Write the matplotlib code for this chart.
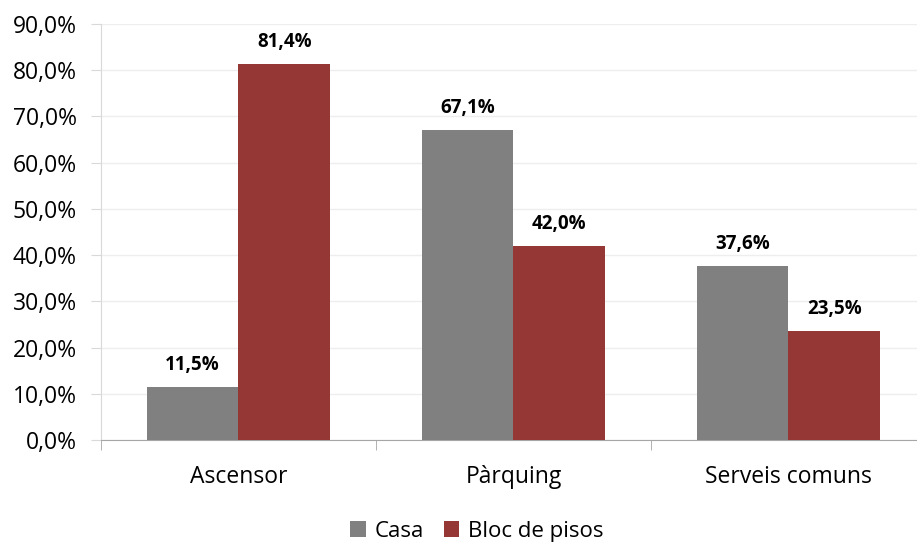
import numpy as np
import matplotlib.pyplot as plt
from matplotlib.ticker import FuncFormatter

plt.rcParams['font.family'] = ['Open Sans', 'DejaVu Sans']

categories = ['Ascensor', 'Pàrquing', 'Serveis comuns']
casa = [11.5, 67.1, 37.6]
bloc = [81.4, 42.0, 23.5]
series_names = ['Casa', 'Bloc de pisos']

fig = plt.figure(figsize=(9.17, 5.43), dpi=100)
ax = fig.add_axes([101/917, (543-440)/543, 825/917, 416/543])

x = np.arange(len(categories))
w = 0.333
b1 = ax.bar(x - w/2, casa, w, color='#808080', label=series_names[0], zorder=3)
b2 = ax.bar(x + w/2, bloc, w, color='#953735', label=series_names[1], zorder=3)

for bars, vals in ((b1, casa), (b2, bloc)):
    for r, v in zip(bars, vals):
        ax.text(r.get_x() + r.get_width()/2, v + 2.6, ('%.1f%%' % v).replace('.', ','),
                ha='center', va='bottom', fontsize=13.5, fontweight='bold')

ax.set_xlim(-0.5, 2.5)
ax.set_ylim(0, 90)
ax.set_yticks(np.arange(0, 91, 10))
ax.yaxis.set_major_formatter(FuncFormatter(lambda v, p: ('%.1f%%' % v).replace('.', ',')))
ax.set_xticks(x)
ax.set_xticklabels(categories)
ax.set_xticks([-0.5, 0.5, 1.5, 2.5], minor=True)
ax.tick_params(axis='x', which='major', length=0, labelsize=16.5, pad=18)
ax.tick_params(axis='x', which='minor', length=7, color='#a6a6a6', direction='out')
ax.tick_params(axis='y', length=7, color='#d9d9d9', labelsize=16.5, pad=10.5)
ax.grid(axis='y', color='#eeeeee', lw=1, zorder=0)

for s in ('top', 'right'):
    ax.spines[s].set_visible(False)
ax.spines['left'].set_color('#d9d9d9')
ax.spines['bottom'].set_color('#a6a6a6')

fig.legend(handles=[b1, b2], loc='lower center', bbox_to_anchor=(0.52, -0.035), ncol=2,
           frameon=False, fontsize=16, handlelength=0.7, handleheight=0.7,
           handletextpad=0.4, columnspacing=0.9)

fig.savefig('out.png', dpi=100)
